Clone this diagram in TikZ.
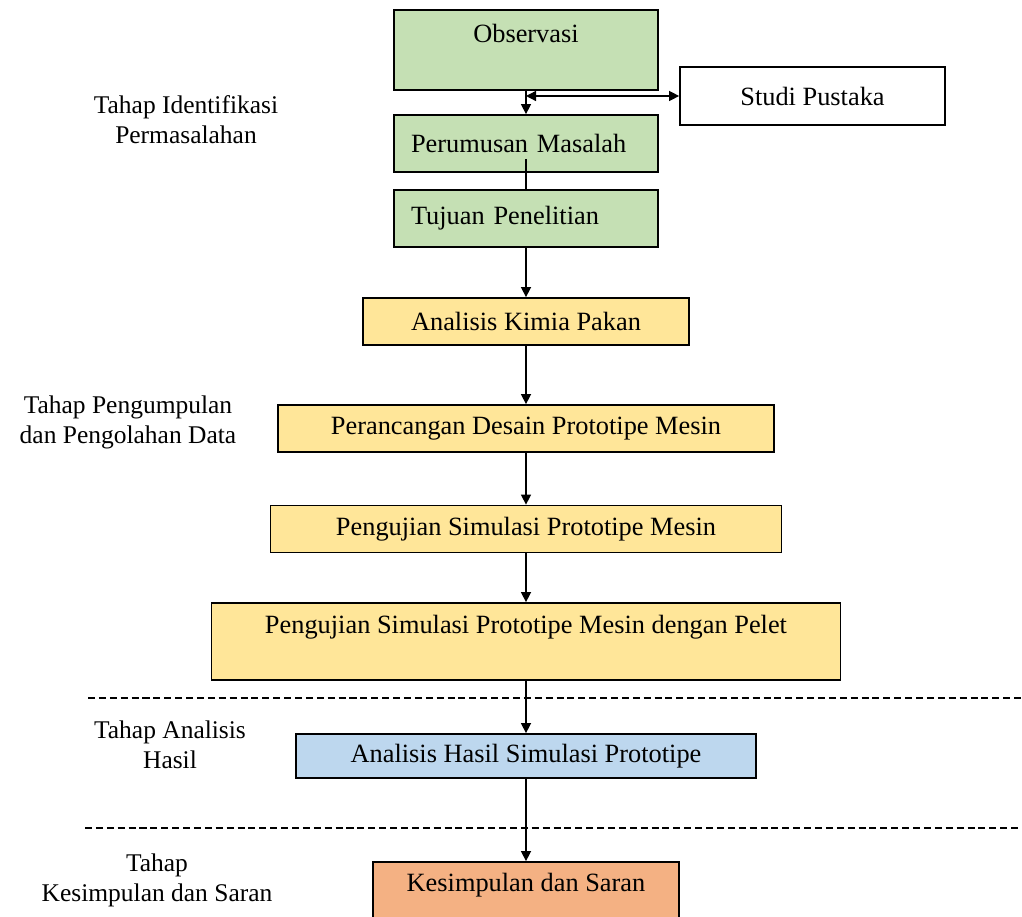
\documentclass[tikz,border=0pt]{standalone}
\usepackage{fontspec}
\setmainfont{Liberation Serif}
\usetikzlibrary{positioning, arrows.meta}

\definecolor{boxgreen}{HTML}{C5E0B4}
\definecolor{boxyellow}{HTML}{FFE699}
\definecolor{boxblue}{HTML}{BDD7EE}
\definecolor{boxorange}{HTML}{F4B183}

\begin{document}
\begin{tikzpicture}[font=\fontsize{15pt}{17pt}\selectfont]
    % Styles
    \tikzstyle{box} = [draw, line width=1pt, rectangle, inner sep=0pt, minimum height=0.94cm]
    \tikzstyle{green box} = [box, fill=boxgreen, minimum width=5.28cm]
    \tikzstyle{yellow box} = [box, fill=boxyellow]
    \tikzstyle{stage} = [align=center, font=\fontsize{14.5pt}{17pt}\selectfont]
    \tikzstyle{edge} = [-{Triangle[length=2mm, width=2mm]}, line width=0.8pt]
    \tikzstyle{both edge} = [{Triangle[length=2mm, width=2mm]}-{Triangle[length=2mm, width=2mm]}, line width=0.8pt]
    \tikzstyle{divider} = [dash pattern=on 4pt off 2.2pt, line width=0.8pt]

    \useasboundingbox (0, 0) rectangle (20.44, -18.34);

    % Nodes
    \node[green box, minimum height=1.6cm, label={[yshift=0.34cm]center:Observasi}] (obs) at (10.52, -1.0) {};
    \node[box, minimum width=5.3cm, minimum height=1.16cm] (studi) at (16.25, -1.92) {Studi Pustaka};
    \node[green box, minimum height=1.14cm, text width=4.6cm, align=left] (rumus) at (10.52, -2.87) {Perumusan Masalah};
    \node[green box, minimum height=1.14cm, text width=4.6cm, align=left] (tujuan) at (10.52, -4.37) {Tujuan Penelitian};
    \node[yellow box, minimum width=6.52cm] (kimia) at (10.52, -6.43) {Analisis Kimia Pakan};
    \node[yellow box, minimum width=9.92cm] (desain) at (10.52, -8.57) {Perancangan Desain Prototipe Mesin};
    \node[yellow box, minimum width=10.22cm] (simulasi) at (10.52, -10.58) {Pengujian Simulasi Prototipe Mesin};
    \node[yellow box, minimum width=12.58cm, minimum height=1.54cm,
          label={[yshift=0.29cm]center:Pengujian Simulasi Prototipe Mesin dengan Pelet}] (pelet) at (10.52, -12.83) {};
    \node[box, fill=boxblue, minimum width=9.2cm, minimum height=0.88cm] (hasil) at (10.52, -15.12) {Analisis Hasil Simulasi Prototipe};
    \node[box, fill=boxorange, minimum width=6.12cm, minimum height=1.16cm,
          label={[yshift=0.12cm]center:Kesimpulan dan Saran}] (simpulan) at (10.52, -17.82) {};

    % Stage labels
    \node[stage] (tahap1) at (3.72, -2.4) {Tahap Identifikasi\\Permasalahan};
    \node[stage] (tahap2) at (2.56, -8.44) {Tahap Pengumpulan\\dan Pengolahan Data};
    \node[stage] (tahap3) at (3.4, -14.9) {Tahap Analisis\\Hasil};
    \node[stage] (tahap4) at (3.14, -17.6) {Tahap\\Kesimpulan dan Saran};

    % Edges
    \coordinate (fork) at (obs.south |- studi.west);
    \draw[edge] (obs) -- (rumus);
    \draw[both edge] (fork) -- (studi.west);
    \draw[line width=0.8pt] ([yshift=0.28cm]rumus.south) -- (tujuan.north);
    \draw[edge] (tujuan) -- (kimia);
    \draw[edge] (kimia) -- (desain);
    \draw[edge] (desain) -- (simulasi);
    \draw[edge] (simulasi) -- (pelet);
    \draw[edge] (pelet) -- (hasil);
    \draw[edge] (hasil) -- (simpulan);

    % Dividers between stages
    \draw[divider] (1.76, -13.96) -- (20.44, -13.96);
    \draw[divider] (1.7, -16.56) -- (20.44, -16.56);
\end{tikzpicture}
\end{document}
